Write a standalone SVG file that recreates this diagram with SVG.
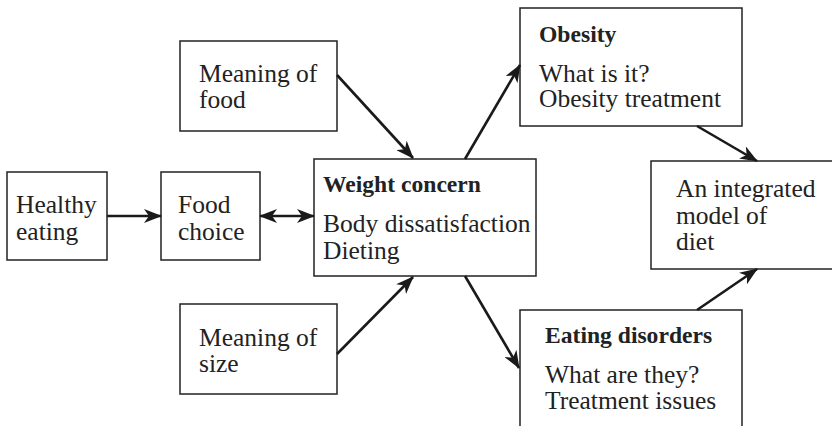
<svg xmlns="http://www.w3.org/2000/svg" width="832" height="426" viewBox="0 0 832 426">
  <style>
    .box { fill: #fff; stroke: #222; stroke-width: 1.5; }
    .t { font-family: "Liberation Serif", "Times New Roman", serif; font-size: 25.5px; fill: #222; }
    .b { font-family: "Liberation Serif", "Times New Roman", serif; font-size: 23.6px; font-weight: bold; fill: #222; }
    .arr { fill: none; stroke: #1a1a1a; stroke-width: 2.6; }
  </style>
  <defs>
    <marker id="head" viewBox="0 0 18 14" refX="17" refY="7" markerWidth="18" markerHeight="14" markerUnits="userSpaceOnUse" orient="auto-start-reverse">
      <path d="M0,0 L18,7 L0,14 L5,7 Z" fill="#1a1a1a"/>
    </marker>
  </defs>
  <rect width="832" height="426" fill="#fff"/>

  <g id="meaning-of-food">
    <rect class="box" x="180" y="41" width="157" height="90"/>
    <text class="t" x="199" y="82">Meaning of</text>
    <text class="t" x="199" y="108">food</text>
  </g>

  <g id="healthy-eating">
    <rect class="box" x="7" y="172" width="100" height="88"/>
    <text class="t" x="16" y="213">Healthy</text>
    <text class="t" x="16" y="240">eating</text>
  </g>

  <g id="food-choice">
    <rect class="box" x="161" y="172" width="99" height="88"/>
    <text class="t" x="178" y="213">Food</text>
    <text class="t" x="178" y="240">choice</text>
  </g>

  <g id="weight-concern">
    <rect class="box" x="314" y="159" width="222" height="117"/>
    <text class="b" x="323" y="192">Weight concern</text>
    <text class="t" x="323" y="232">Body dissatisfaction</text>
    <text class="t" x="323" y="259">Dieting</text>
  </g>

  <g id="meaning-of-size">
    <rect class="box" x="180" y="304" width="157" height="90"/>
    <text class="t" x="199" y="346">Meaning of</text>
    <text class="t" x="199" y="372">size</text>
  </g>

  <g id="obesity">
    <rect class="box" x="520" y="8" width="222" height="118"/>
    <text class="b" x="539" y="42">Obesity</text>
    <text class="t" x="539" y="82">What is it?</text>
    <text class="t" x="539" y="107">Obesity treatment</text>
  </g>

  <g id="eating-disorders">
    <rect class="box" x="520" y="310" width="222" height="130"/>
    <text class="b" x="545" y="343">Eating disorders</text>
    <text class="t" x="545" y="383">What are they?</text>
    <text class="t" x="545" y="409">Treatment issues</text>
  </g>

  <g id="integrated-model">
    <rect class="box" x="651" y="161" width="190" height="108"/>
    <text class="t" x="676" y="197">An integrated</text>
    <text class="t" x="676" y="224">model of</text>
    <text class="t" x="676" y="250">diet</text>
  </g>

  <g id="connectors">
    <line class="arr" x1="107" y1="216" x2="161" y2="216" marker-end="url(#head)"/>
    <line class="arr" x1="260" y1="216" x2="314" y2="216" marker-start="url(#head)" marker-end="url(#head)"/>
    <line class="arr" x1="337" y1="75" x2="413" y2="158" marker-end="url(#head)"/>
    <line class="arr" x1="337" y1="354" x2="413" y2="277" marker-end="url(#head)"/>
    <line class="arr" x1="465" y1="159" x2="520" y2="65" marker-end="url(#head)"/>
    <line class="arr" x1="465" y1="276" x2="519" y2="368" marker-end="url(#head)"/>
    <line class="arr" x1="697" y1="126" x2="757" y2="161" marker-end="url(#head)"/>
    <line class="arr" x1="697" y1="310" x2="757" y2="269" marker-end="url(#head)"/>
  </g>
</svg>
